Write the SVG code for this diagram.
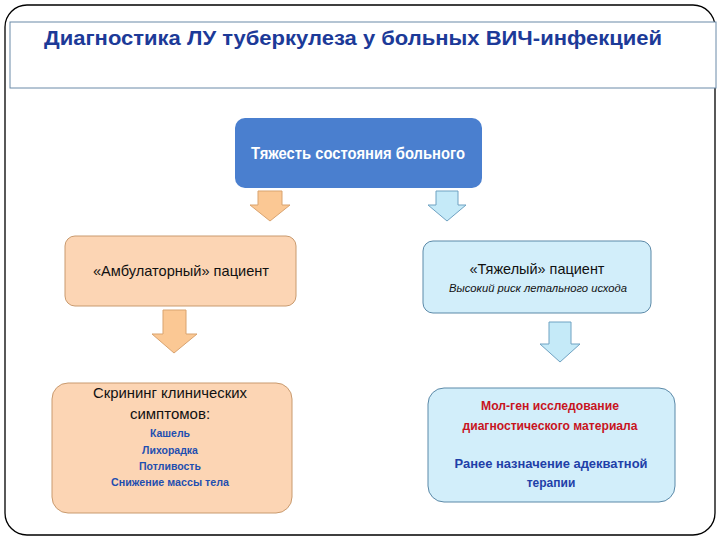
<svg xmlns="http://www.w3.org/2000/svg" width="720" height="540" viewBox="0 0 720 540">
<defs>
<style>
.t{font-family:"Liberation Sans",Arial,sans-serif}
.peach{fill:#fcd5b4;stroke:#c99a6e;stroke-width:1}
.blue{fill:#d2eefa;stroke:#5b89a8;stroke-width:1}
.arO{fill:#fbc894;stroke:#d9a36f;stroke-width:1}
.arB{fill:#c5eaf8;stroke:#6fa2c2;stroke-width:1}
</style>
</defs>
<rect width="720" height="540" fill="#ffffff"/>
<rect x="5" y="5" width="710" height="530" rx="22" fill="none" stroke="#000" stroke-width="1.3"/>
<g id="title">
<rect x="10" y="22" width="706" height="66" fill="#ffffff" stroke="#6a8aa8" stroke-width="1"/>
<text x="44" y="45" class="t" font-size="21" font-weight="bold" fill="#1c3a98" textLength="618" lengthAdjust="spacingAndGlyphs">Диагностика ЛУ  туберкулеза у больных ВИЧ-инфекцией</text>
</g>
<g id="connectors">
<path class="arO" d="M258,191 H282 V205 H290 L270,221 L250,205 H258 Z"/>
<path class="arB" d="M436,191 H458 V205 H466 L447,221 L428,205 H436 Z"/>
<path class="arO" d="M163,310 H186 V334 H197 L174,353 L152,334 H163 Z"/>
<path class="arB" d="M549,322 H571 V344 H580 L560,362 L540,344 H549 Z"/>
</g>
<g id="n-severity">
<rect x="235" y="118" width="247" height="70" rx="10" fill="#4a7fcf"/>
<text x="358" y="159" class="t" font-size="17" font-weight="bold" fill="#ffffff" text-anchor="middle" textLength="214" lengthAdjust="spacingAndGlyphs">Тяжесть состояния больного</text>
</g>
<g id="n-ambulatory">
<rect x="65" y="236" width="231" height="70" rx="10" class="peach"/>
<text x="181" y="276" class="t" font-size="14.5" fill="#111" text-anchor="middle" textLength="176" lengthAdjust="spacingAndGlyphs">«Амбулаторный» пациент</text>
</g>
<g id="n-severe">
<rect x="423" y="241" width="228" height="72" rx="10" class="blue"/>
<text x="537" y="274" class="t" font-size="14.5" fill="#111" text-anchor="middle" textLength="135" lengthAdjust="spacingAndGlyphs">«Тяжелый» пациент</text>
<text x="538" y="292" class="t" font-size="11" font-style="italic" fill="#111" text-anchor="middle" textLength="178" lengthAdjust="spacingAndGlyphs">Высокий риск летального исхода</text>
</g>
<g id="n-screening">
<rect x="52" y="383" width="240" height="130" rx="16" class="peach"/>
<text x="170" y="398" class="t" font-size="15" fill="#111" text-anchor="middle" textLength="154" lengthAdjust="spacingAndGlyphs">Скрининг клинических</text>
<text x="170" y="419" class="t" font-size="15" fill="#111" text-anchor="middle">симптомов:</text>
<text x="170" y="437" class="t" font-size="10.5" font-weight="bold" fill="#1f4fb0" text-anchor="middle">Кашель</text>
<text x="170" y="454" class="t" font-size="10.5" font-weight="bold" fill="#1f4fb0" text-anchor="middle">Лихорадка</text>
<text x="170" y="470" class="t" font-size="10.5" font-weight="bold" fill="#1f4fb0" text-anchor="middle">Потливость</text>
<text x="170" y="486" class="t" font-size="10.5" font-weight="bold" fill="#1f4fb0" text-anchor="middle" textLength="118" lengthAdjust="spacingAndGlyphs">Снижение массы тела</text>
</g>
<g id="n-molgen">
<rect x="428" y="388" width="247" height="114" rx="16" class="blue"/>
<text x="550" y="410" class="t" font-size="12" font-weight="bold" fill="#c8141e" text-anchor="middle" textLength="138" lengthAdjust="spacingAndGlyphs">Мол-ген исследование</text>
<text x="550" y="430" class="t" font-size="12" font-weight="bold" fill="#c8141e" text-anchor="middle" textLength="175" lengthAdjust="spacingAndGlyphs">диагностического материала</text>
<text x="551" y="468" class="t" font-size="12" font-weight="bold" fill="#1f3fa8" text-anchor="middle" textLength="193" lengthAdjust="spacingAndGlyphs">Ранее  назначение  адекватной</text>
<text x="551" y="487" class="t" font-size="12" font-weight="bold" fill="#1f3fa8" text-anchor="middle">терапии</text>
</g>
</svg>
